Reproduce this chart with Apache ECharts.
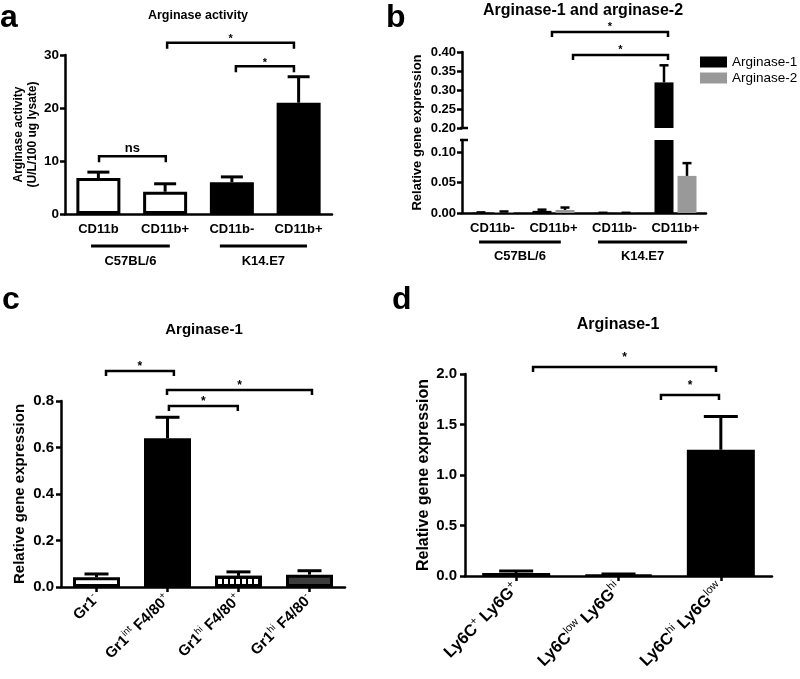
<!DOCTYPE html>
<html><head><meta charset="utf-8">
<script src="https://cdn.jsdelivr.net/npm/echarts@6/dist/echarts.min.js"></script>
<style>html,body{margin:0;padding:0;background:#fff}#c{width:800px;height:679px}</style>
</head><body><div id="c"></div>
<script>
// ---------------- DATA ----------------
// Panel a
const catsA = ['CD11b', 'CD11b+', 'CD11b-', 'CD11b+'];
const activityA = [6.8, 4.2, 6.0, 21.0];
const activityErrA = [1.1, 1.5, 1.0, 4.9];
const ticksA = [0, 10, 20, 30];
const groupsA = [['C57BL/6', -0.11, 1.07], ['K14.E7', 1.82, 3.125]];
const sigA = [[1.03, 2.93, 32.3, '*'], [2.06, 2.93, 27.9, '*'], [0.01, 1.01, 10.9, 'ns']];

// Panel b
const catsB = ['CD11b-', 'CD11b+', 'CD11b-', 'CD11b+'];
const arg1B = [0.0005, 0.0035, 0.0002, 0.32];
const arg1ErrB = [0.0005, 0.002, 0.0001, 0.045];
const arg2B = [0.0015, 0.005, 0.0002, 0.061];
const arg2ErrB = [0.001, 0.004, 0.0001, 0.021];
const ticksBUpper = [0.20, 0.25, 0.30, 0.35, 0.40];
const ticksBLower = [0.00, 0.05, 0.10];
const lowerMaxB = 0.12;
const groupsB = [['C57BL/6', -0.22, 1.12], ['K14.E7', 1.73, 3.19]];
const sigB = [[0.975, 2.877, 0.4526, '*'], [1.32, 2.877, 0.392, '*']];

// Panel c
const catsC = ['Gr1^-', 'Gr1^int F4/80^+', 'Gr1^hi F4/80^+', 'Gr1^hi F4/80^-'];
const arg1C = [0.042, 0.64, 0.048, 0.053];
const arg1ErrC = [0.014, 0.09, 0.017, 0.017];
const ticksC = [0, 0.2, 0.4, 0.6, 0.8];
const sigC = [[0.134, 1.09, 0.929, '*'], [0.993, 3.035, 0.847, '*'], [1.02, 1.99, 0.778, '*']];

// Panel d
const catsD = ['Ly6C^+ Ly6G^+', 'Ly6C^low Ly6G^hi', 'Ly6C^hi Ly6G^low'];
const arg1D = [0.03, 0.015, 1.25];
const arg1ErrD = [0.02, 0.005, 0.33];
const ticksD = [0, 0.5, 1.0, 1.5, 2.0];
const sigD = [[0.165, 1.953, 2.069, '*'], [1.415, 1.982, 1.792, '*']];

// ---------------- STYLE ----------------
const FONT = '"Liberation Sans", Arial, Helvetica, sans-serif';
const fnt = (w, s) => w + ' ' + s + 'px ' + FONT;
const fillA = ['#ffffff', '#ffffff', '#000000', '#000000'];
const decalC = { symbol: 'rect', symbolSize: 1, symbolKeepAspect: false, dashArrayX: [2, 4], dashArrayY: [60, 0], color: '#000', rotation: 0 };
const styleC = [
  { color: '#ffffff' },
  { color: '#000000' },
  { color: '#ffffff', decal: decalC },
  { color: '#3c3c3c' }
];

const chart = echarts.init(document.getElementById('c'), null, { renderer: 'canvas' });

function interval(t) { return +(t[1] - t[0]).toFixed(6); }

function yAxisCfg(gi, min, max, step, fs, margin, fmt, extra) {
  const o = {
    type: 'value', gridIndex: gi, min: min, max: max, interval: step,
    axisLine: { show: true, lineStyle: { color: '#000', width: 2.5 } },
    axisTick: { show: true, length: 5, lineStyle: { color: '#000', width: 2.5 } },
    splitLine: { show: false },
    axisLabel: { color: '#000', fontFamily: FONT, fontWeight: 'bold', fontSize: fs, margin: margin, formatter: fmt }
  };
  return Object.assign(o, extra || {});
}

function supFmt(v) {
  return v.split(' ').map(function (w) {
    const p = w.split('^');
    return '{m|' + p[0] + '}' + (p[1] ? '{s|' + p[1] + '}' : '');
  }).join('{m| }');
}

function xAxisCat(gi, cats, extra) {
  const o = {
    type: 'category', gridIndex: gi, data: cats,
    axisLine: { show: true, onZero: false, lineStyle: { color: '#000', width: 2.5 } },
    axisTick: { show: false },
    splitLine: { show: false },
    axisLabel: { color: '#000', fontFamily: FONT, fontWeight: 'bold', fontSize: 13, margin: 9, interval: 0 }
  };
  return Object.assign(o, extra || {});
}

function errSeries(xi, yi, vals, errs, dx, cap, lw, clip) {
  return {
    type: 'custom', xAxisIndex: xi, yAxisIndex: yi, silent: true, z: 3, clip: clip,
    data: vals.map(function (v, i) { return [i, v, v + errs[i]]; }),
    renderItem: function (params, api) {
      const b = api.coord([api.value(0), api.value(1)]);
      const t = api.coord([api.value(0), api.value(2)]);
      const x = b[0] + dx;
      return { type: 'group', children: [
        { type: 'line', shape: { x1: x, y1: b[1], x2: x, y2: t[1] }, style: { stroke: '#000', lineWidth: lw } },
        { type: 'line', shape: { x1: x - cap / 2, y1: t[1], x2: x + cap / 2, y2: t[1] }, style: { stroke: '#000', lineWidth: lw } }
      ] };
    }
  };
}

function sigSeries(xi, yi, list, gap, tip, starSize) {
  return {
    type: 'custom', xAxisIndex: xi, yAxisIndex: yi, silent: true, z: 5,
    data: list.map(function (b) { return [0, b[2]]; }),
    renderItem: function (params, api) {
      const b = list[params.dataIndex];
      const band = api.size([1, 0])[0];
      const o = api.coord([0, b[2]]);
      const xa = o[0] + b[0] * band, xb = o[0] + b[1] * band, y = o[1];
      const isStar = b[3] === '*';
      return { type: 'group', children: [
        { type: 'polyline', shape: { points: [[xa, y + tip], [xa, y], [xb, y], [xb, y + tip]] },
          style: { stroke: '#000', lineWidth: 2.5, fill: null } },
        { type: 'text', style: { text: b[3], x: (xa + xb) / 2, y: y - gap + (isStar ? 3 : -1),
          font: fnt('bold', isStar ? starSize : 13), fill: '#000',
          textAlign: 'center', textVerticalAlign: 'middle', align: 'center', verticalAlign: 'middle' } }
      ] };
    }
  };
}

function groupSeries(xi, yi, list, lineOff, labelOff, fs) {
  return {
    type: 'custom', xAxisIndex: xi, yAxisIndex: yi, silent: true, z: 5,
    data: list.map(function () { return [0, 0]; }),
    renderItem: function (params, api) {
      const g = list[params.dataIndex];
      const band = api.size([1, 0])[0];
      const o = api.coord([0, 0]);
      const xa = o[0] + g[1] * band, xb = o[0] + g[2] * band;
      return { type: 'group', children: [
        { type: 'line', shape: { x1: xa, y1: o[1] + lineOff, x2: xb, y2: o[1] + lineOff }, style: { stroke: '#000', lineWidth: 3 } },
        { type: 'text', style: { text: g[0], x: (xa + xb) / 2, y: o[1] + labelOff, font: fnt('bold', fs), fill: '#000',
          textAlign: 'center', textVerticalAlign: 'middle', align: 'center', verticalAlign: 'middle' } }
      ] };
    }
  };
}

function breakSeries(xi, yi, v) {
  return {
    type: 'custom', xAxisIndex: xi, yAxisIndex: yi, silent: true, z: 6,
    data: [[0, v]],
    renderItem: function (params, api) {
      const band = api.size([1, 0])[0];
      const p = api.coord([0, api.value(1)]);
      const ax = p[0] - band / 2;
      return { type: 'line', shape: { x1: ax - 2, y1: p[1], x2: ax + 6, y2: p[1] }, style: { stroke: '#000', lineWidth: 2.5 } };
    }
  };
}

function gtext(text, x, y, weight, size, align, rot) {
  return { type: 'text', x: x, y: y, rotation: rot || 0, silent: true,
    style: { text: text, font: fnt(weight, size), fill: '#000',
      textAlign: align, textVerticalAlign: 'middle', align: align, verticalAlign: 'middle' } };
}

const richC = {
  m: { fontFamily: FONT, fontWeight: 'bold', fontSize: 15, color: '#000', lineHeight: 19 },
  s: { fontFamily: FONT, fontSize: 9.5, color: '#000', lineHeight: 9, verticalAlign: 'top' }
};
const richD = {
  m: { fontFamily: FONT, fontWeight: 'bold', fontSize: 16.5, color: '#000', lineHeight: 21 },
  s: { fontFamily: FONT, fontSize: 11, color: '#000', lineHeight: 10, verticalAlign: 'top' }
};

const option = {
  animation: false,
  backgroundColor: '#ffffff',
  textStyle: { fontFamily: FONT, color: '#000' },
  grid: [
    { left: 65, top: 55, width: 267, height: 159, containLabel: false, outerBoundsMode: 'none' },
    { left: 462, top: 52, width: 244, height: 76, containLabel: false, outerBoundsMode: 'none' },
    { left: 462, top: 140, width: 244, height: 73, containLabel: false, outerBoundsMode: 'none' },
    { left: 61, top: 401, width: 284, height: 186, containLabel: false, outerBoundsMode: 'none' },
    { left: 465, top: 374, width: 307, height: 202, containLabel: false, outerBoundsMode: 'none' }
  ],
  legend: {
    data: ['Arginase-1', 'Arginase-2'], left: 700, top: 55, padding: 0, orient: 'vertical', icon: 'rect',
    itemWidth: 27, itemHeight: 11, itemGap: 2, selectedMode: false,
    textStyle: { fontFamily: FONT, fontSize: 13.5, color: '#000' }
  },
  xAxis: [
    xAxisCat(0, catsA),
    xAxisCat(1, catsB, { show: false }),
    xAxisCat(2, catsB),
    xAxisCat(3, catsC, {
      axisTick: { show: true, alignWithLabel: true, length: 5, lineStyle: { color: '#000', width: 2.5 } },
      axisLabel: { interval: 0, rotate: 45, margin: 10, formatter: supFmt, rich: richC }
    }),
    xAxisCat(4, catsD, {
      axisTick: { show: true, alignWithLabel: true, length: 5, lineStyle: { color: '#000', width: 2.5 } },
      axisLabel: { interval: 0, rotate: 45, margin: 10, formatter: supFmt, rich: richD }
    })
  ],
  yAxis: [
    yAxisCfg(0, ticksA[0], ticksA[ticksA.length - 1], interval(ticksA), 13.5, 6, function (v) { return String(v); }, {
      name: 'Arginase activity\n(U/L/100 ug lysate)', nameLocation: 'middle', nameGap: 25,
      nameTextStyle: { fontFamily: FONT, fontWeight: 'bold', fontSize: 12, lineHeight: 14, color: '#000' }
    }),
    yAxisCfg(1, ticksBUpper[0], ticksBUpper[ticksBUpper.length - 1], interval(ticksBUpper), 13, 6, function (v) { return v.toFixed(2); }),
    yAxisCfg(2, ticksBLower[0], lowerMaxB, interval(ticksBLower), 13, 6, function (v) { return v.toFixed(2); }, {
      axisLabel: { color: '#000', fontFamily: FONT, fontWeight: 'bold', fontSize: 13, margin: 6, showMaxLabel: false,
        formatter: function (v) { return v.toFixed(2); } }
    }),
    yAxisCfg(3, ticksC[0], ticksC[ticksC.length - 1], interval(ticksC), 15, 7, function (v) { return v.toFixed(1); }, {
      name: 'Relative gene expression', nameLocation: 'middle', nameGap: 29.5,
      nameTextStyle: { fontFamily: FONT, fontWeight: 'bold', fontSize: 15, lineHeight: 18, color: '#000' }
    }),
    yAxisCfg(4, ticksD[0], ticksD[ticksD.length - 1], interval(ticksD), 15, 8, function (v) { return v.toFixed(1); }, {
      name: 'Relative gene expression', nameLocation: 'middle', nameGap: 31,
      nameTextStyle: { fontFamily: FONT, fontWeight: 'bold', fontSize: 16, lineHeight: 18, color: '#000' }
    })
  ],
  series: [
    // a
    { type: 'bar', name: 'activity', xAxisIndex: 0, yAxisIndex: 0, barWidth: 44, z: 2, silent: true,
      itemStyle: { borderColor: '#000', borderWidth: 3 },
      data: activityA.map(function (v, i) { return { value: v, itemStyle: { color: fillA[i] } }; }) },
    errSeries(0, 0, activityA, activityErrA, 0, 22, 3, false),
    sigSeries(0, 0, sigA, 6.5, 6, 11),
    groupSeries(0, 0, groupsA, 32, 47, 13),
    // b top
    { type: 'bar', name: 'Arginase-1', xAxisIndex: 1, yAxisIndex: 1, barWidth: 19, barGap: '21%', z: 2, silent: true, clip: true,
      itemStyle: { color: '#000' }, data: arg1B },
    { type: 'bar', name: 'Arginase-2', xAxisIndex: 1, yAxisIndex: 1, barWidth: 19, barGap: '21%', z: 2, silent: true, clip: true,
      itemStyle: { color: '#999999' }, data: arg2B },
    errSeries(1, 1, arg1B, arg1ErrB, -11.5, 9, 2.5, true),
    errSeries(1, 1, arg2B, arg2ErrB, 11.5, 9, 2.5, true),
    sigSeries(1, 1, sigB, 8.5, 5, 11),
    breakSeries(1, 1, ticksBUpper[0]),
    // b bottom
    { type: 'bar', name: 'Arginase-1', xAxisIndex: 2, yAxisIndex: 2, barWidth: 19, barGap: '21%', z: 2, silent: true, clip: true,
      itemStyle: { color: '#000' }, data: arg1B },
    { type: 'bar', name: 'Arginase-2', xAxisIndex: 2, yAxisIndex: 2, barWidth: 19, barGap: '21%', z: 2, silent: true, clip: true,
      itemStyle: { color: '#999999' }, data: arg2B },
    errSeries(2, 2, arg1B, arg1ErrB, -11.5, 9, 2.5, true),
    errSeries(2, 2, arg2B, arg2ErrB, 11.5, 9, 2.5, true),
    groupSeries(2, 2, groupsB, 29, 43, 13),
    breakSeries(2, 2, lowerMaxB),
    // c
    { type: 'bar', name: 'c', xAxisIndex: 3, yAxisIndex: 3, barWidth: 47, z: 2, silent: true,
      itemStyle: { borderColor: '#000', borderWidth: 3 },
      data: arg1C.map(function (v, i) { return { value: v, itemStyle: styleC[i] }; }) },
    errSeries(3, 3, arg1C, arg1ErrC, 0, 24, 3, false),
    sigSeries(3, 3, sigC, 7, 5, 12),
    // d
    { type: 'bar', name: 'd', xAxisIndex: 4, yAxisIndex: 4, barWidth: 68, z: 2, silent: true,
      itemStyle: { color: '#000', borderColor: '#000', borderWidth: 2 }, data: arg1D },
    errSeries(4, 4, arg1D, arg1ErrD, 0, 34, 3, false),
    sigSeries(4, 4, sigD, 12, 5, 12)
  ],
  graphic: [
    gtext('a', 0, 18, 'bold', 32, 'left'),
    gtext('b', 386, 18, 'bold', 32, 'left'),
    gtext('c', 2, 300, 'bold', 32, 'left'),
    gtext('d', 392, 300, 'bold', 32, 'left'),
    gtext('Arginase activity', 198, 16, 'bold', 12.5, 'center'),
    gtext('Arginase-1 and arginase-2', 583, 10.5, 'bold', 16, 'center'),
    gtext('Arginase-1', 204, 330, 'bold', 15, 'center'),
    gtext('Arginase-1', 618, 325, 'bold', 16, 'center'),
    gtext('Relative gene expression', 417, 132.5, 'bold', 13, 'center', Math.PI / 2)
  ]
};
chart.setOption(option);
</script>
</body></html>
